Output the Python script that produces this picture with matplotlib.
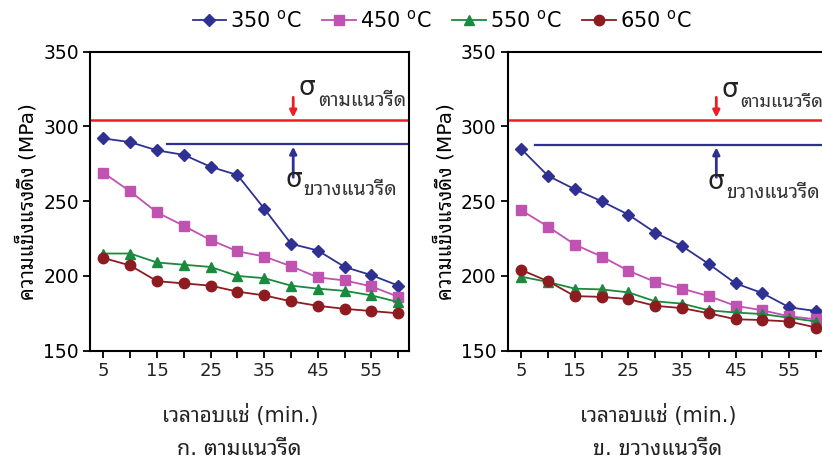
import matplotlib
matplotlib.use("Agg")
import matplotlib.pyplot as plt
from matplotlib.lines import Line2D

plt.rcParams['font.family'] = ['DejaVu Sans', 'Noto Sans Thai Looped']
plt.rcParams['mathtext.fontset'] = 'dejavusans'

# ---- data ----
time_min = [5, 10, 15, 20, 25, 30, 35, 40, 45, 50, 55, 60]
xtick_labels = [5, 15, 25, 35, 45, 55]
ytick_values = [150, 200, 250, 300, 350]
temps = ["350", "450", "550", "650"]

rolling_350 = [292, 289.5, 284, 281, 273, 267.5, 245, 221.5, 217, 206, 200.5, 193.5]
rolling_450 = [269, 256.5, 242.5, 233.5, 224, 216.5, 213, 206.5, 199, 197, 193, 186]
rolling_550 = [215, 215, 209, 207.5, 206, 200, 198.5, 193.5, 191.5, 190, 187, 182.5]
rolling_650 = [212, 207, 196.5, 195, 193.5, 189.5, 187, 183, 180, 178, 176.5, 175]

transverse_350 = [285, 267, 258, 250, 241, 229, 220, 208, 195, 188.5, 179, 176.5]
transverse_450 = [244, 233, 221, 213, 203.5, 196, 191.5, 186.5, 180, 177, 173, 171]
transverse_550 = [199.5, 196, 191.5, 191, 189, 183, 181.5, 177, 175.5, 174.5, 172, 169.5]
transverse_650 = [204, 196.5, 186.5, 186, 184.5, 180, 178.5, 175, 171, 170.5, 169.5, 165.5]

sigma_rolling_limit = [304, 304]        # σ ตามแนวรีด (left, right panels)
sigma_transverse_limit = [288, 287.5]   # σ ขวางแนวรีด (left, right panels)
sigma_transverse_start = [16.8, 7.5]

colors = ['#2E3192', '#C052B2', '#1A8A3E', '#8E1B1F']
markers = ['D', 's', '^', 'o']
msizes = [6, 7.5, 7.5, 7.5]

fig = plt.figure(figsize=(8.22, 4.59), dpi=100)
axL = fig.add_axes([0.1095, 0.236, 0.3881, 0.6513])
axR = fig.add_axes([0.6177, 0.236, 0.3881, 0.6513])

panels = [
    (axL, [rolling_350, rolling_450, rolling_550, rolling_650], 0,
     dict(up_sig=(41.4, 321.0), up_txt=(45.0, 314.0), up_fs=14, arr_x=40.4,
          lo_sig=(39.0, 259.5), lo_txt=(42.3, 254.0))),
    (axR, [transverse_350, transverse_450, transverse_550, transverse_650], 1,
     dict(up_sig=(42.4, 320.0), up_txt=(45.9, 313.0), up_fs=13.2, arr_x=41.4,
          lo_sig=(39.8, 258.0), lo_txt=(43.2, 252.0))),
]

for ax, series, i, ann in panels:
    for s, c, m, ms in zip(series, colors, markers, msizes):
        ax.plot(time_min, s, color=c, marker=m, markersize=ms, lw=1.3,
                markeredgecolor=c, markerfacecolor=c, zorder=3)
    ax.axhline(sigma_rolling_limit[i], color='#EE1C25', lw=1.8, zorder=2)
    ax.plot([sigma_transverse_start[i], 70], [sigma_transverse_limit[i]] * 2,
            color='#2E3192', lw=1.6, zorder=2)
    ax.set_xlim(2.5, 62.0)
    ax.set_ylim(150, 350)
    ax.set_xticks(time_min)
    ax.set_xticklabels([str(t) if t in xtick_labels else '' for t in time_min],
                       fontsize=13, color='#222222')
    ax.set_yticks(ytick_values)
    ax.set_yticklabels([str(v) for v in ytick_values], fontsize=13.5)
    ax.tick_params(axis='both', direction='out', length=5, width=1.3, pad=3)
    for sp in ax.spines.values():
        sp.set_linewidth(1.5)
    ax.set_ylabel('ความแข็งแรงดึง (MPa)', fontsize=14.5, labelpad=4)

    # sigma annotations
    ax.annotate('', xy=(ann['arr_x'], sigma_rolling_limit[i] + 2.0),
                xytext=(ann['arr_x'], 319.5),
                arrowprops=dict(arrowstyle='-|>', color='#EE1C25', lw=2,
                                mutation_scale=10, shrinkA=0, shrinkB=0))
    ax.annotate('', xy=(ann['arr_x'], sigma_transverse_limit[i] - 1.5),
                xytext=(ann['arr_x'], 266),
                arrowprops=dict(arrowstyle='-|>', color='#2E3192', lw=2,
                                mutation_scale=10, shrinkA=0, shrinkB=0))
    ax.text(*ann['up_sig'], 'σ', fontsize=19, ha='left', va='baseline', color='#222222')
    ax.text(*ann['up_txt'], 'ตามแนวรีด', fontsize=ann['up_fs'], ha='left', va='baseline', color='#333333')
    ax.text(*ann['lo_sig'], 'σ', fontsize=19, ha='left', va='baseline', color='#222222')
    ax.text(*ann['lo_txt'], 'ขวางแนวรีด', fontsize=14, ha='left', va='baseline', color='#333333')

fig.text(240 / 822, 1 - 415 / 459, 'เวลาอบแช่ (min.)', fontsize=15, ha='center', va='center', color='#222222')
fig.text(658 / 822, 1 - 415 / 459, 'เวลาอบแช่ (min.)', fontsize=15, ha='center', va='center', color='#222222')
fig.text(239 / 822, 1 - 449 / 459, 'ก. ตามแนวรีด', fontsize=15.5, ha='center', va='center', color='#222222')
fig.text(658 / 822, 1 - 449 / 459, 'ข. ขวางแนวรีด', fontsize=15.5, ha='center', va='center', color='#222222')

handles = [Line2D([], [], color=c, marker=m, markersize=ms, lw=1.3)
           for c, m, ms in zip(colors, markers, msizes)]
labels = [t + r' $^{\mathrm{o}}$C' for t in temps]
fig.legend(handles, labels, loc='center', bbox_to_anchor=(442 / 822, 1 - 20 / 459),
           ncol=4, frameon=False, fontsize=15, handlelength=1.6, handletextpad=0.2,
           columnspacing=1.0)

fig.savefig("out.png", dpi=100)
